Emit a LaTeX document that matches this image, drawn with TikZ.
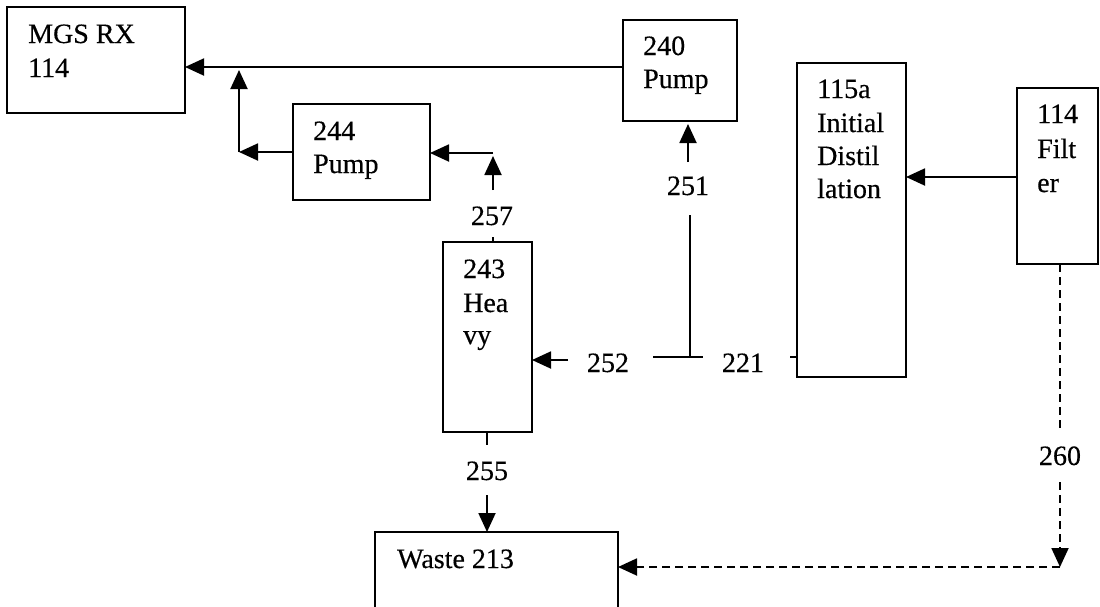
\documentclass[tikz,border=0pt]{standalone}
\usepackage{fontspec}
\setmainfont{Liberation Serif}[FakeBold=0.4]
\usetikzlibrary{arrows.meta}
\begin{document}
\begin{tikzpicture}[x=1pt,y=-1pt,
  box/.style={draw, line width=1.9pt, inner sep=0pt, outer sep=0pt, anchor=north west},
  txt/.style={inner sep=0pt, anchor=base west, font=\fontsize{28}{34}\selectfont},
  lbl/.style={inner sep=0pt, anchor=base, font=\fontsize{28}{34}\selectfont},
  conn/.style={line width=1.9pt},
  arr/.style={line width=1.9pt, -{Triangle[length=19pt,width=17pt]}},
  dash260/.style={line width=1.9pt, dash pattern=on 8pt off 5pt},
  darr/.style={dash260, -{Triangle[length=19pt,width=17pt]}}]
\useasboundingbox (0,0) rectangle (1100,606);
% boxes
\node[box, minimum width=178pt, minimum height=106pt] (mgs) at (7,7) {};
\node[box, minimum width=114pt, minimum height=101pt] (p240) at (623,20) {};
\node[box, minimum width=137pt, minimum height=96pt] (p244) at (293,104) {};
\node[box, minimum width=109pt, minimum height=314pt] (dist) at (797,63) {};
\node[box, minimum width=81pt, minimum height=176pt] (filt) at (1017,88) {};
\node[box, minimum width=89pt, minimum height=190pt] (heavy) at (443,242) {};
\node[box, minimum width=243pt, minimum height=80pt] (waste) at (375,532) {};
% box texts
\node[txt] (mgsA) at (28,43) {MGS RX};
\node[txt] (mgsB) at (28,77) {114};
\node[txt] (p240A) at (643,55) {240};
\node[txt] (p240B) at (643,88) {Pump};
\node[txt] (p244A) at (313,140) {244};
\node[txt] (p244B) at (313,173) {Pump};
\node[txt] (distA) at (817,98) {115a};
\node[txt] (distB) at (817,132) {Initial};
\node[txt] (distC) at (817,165) {Distil};
\node[txt] (distD) at (817,198) {lation};
\node[txt] (filtA) at (1037,123) {114};
\node[txt] (filtB) at (1037,158) {Filt};
\node[txt] (filtC) at (1037,192) {er};
\node[txt] (heavyA) at (463,278) {243};
\node[txt] (heavyB) at (463,312) {Hea};
\node[txt] (heavyC) at (463,344) {vy};
\node[txt] (wasteA) at (397,568) {Waste 213};
% connector labels
\node[lbl] (l257) at (492,225) {257};
\node[lbl] (l251) at (688,195) {251};
\node[lbl] (l252) at (608,372) {252};
\node[lbl] (l221) at (743,372) {221};
\node[lbl] (l255) at (487,480) {255};
\node[lbl] (l260) at (1060,465) {260};
% junction coordinates
\coordinate (j1) at (239,67);
\coordinate (j1t) at (239,70);
\coordinate (j2) at (239,152);
\coordinate (j3) at (493,153);
\coordinate (j3b) at (493,190);
\coordinate (j3t) at (493,156);
\coordinate (t257) at (493,237);
\coordinate (s251) at (688,162);
\coordinate (a252) at (568,360);
\coordinate (b252) at (653,357);
\coordinate (c252) at (703,357);
\coordinate (v251) at (690,357);
\coordinate (v251t) at (690,215);
\coordinate (t221) at (790,357);
\coordinate (t255) at (487,445);
\coordinate (s255) at (487,495);
\coordinate (f1) at (1060,428);
\coordinate (f2) at (1060,482);
\coordinate (f3) at (1060,567);
% connectors
\draw[arr] (p240.west |- j1) -- (mgs.east |- j1);
\draw[arr] (j2) -- (j1t);
\draw[arr] (p244.west |- j2) -- (j2);
\draw[arr] (j3b) -- (j3t);
\draw[arr] (j3) -- (p244.east |- j3);
\draw[conn] (t257) -- (heavy.north -| t257);
\draw[arr, shorten >=3pt] (s251) -- (p240.south -| s251);
\draw[arr] (a252) -- (heavy.east |- a252);
\draw[conn] (b252) -- (c252);
\draw[conn] (v251t) -- (v251);
\draw[conn] (t221) -- (dist.west |- t221);
\draw[conn] (heavy.south -| t255) -- (t255);
\draw[arr] (s255) -- (waste.north -| s255);
\draw[arr] (filt.west |- 0,177) -- (dist.east |- 0,177);
\draw[dash260] (filt.south -| f1) -- (f1);
\draw[darr] (f2) -- (f3);
\draw[darr] (f3) -- (waste.east |- f3);
\end{tikzpicture}
\end{document}
